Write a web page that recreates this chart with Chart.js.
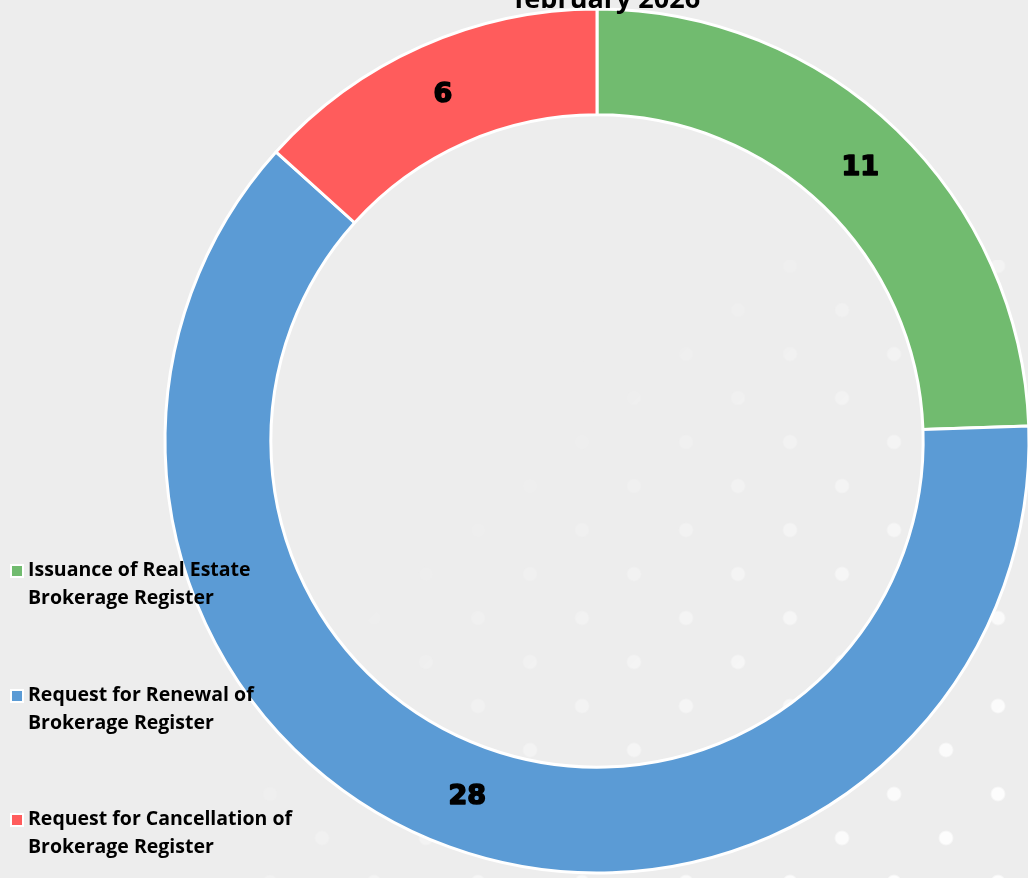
<!DOCTYPE html>
<html>
<head>
<meta charset="utf-8">
<script src="https://cdn.jsdelivr.net/npm/chart.js@4"></script>
<style>
  html, body { margin:0; padding:0; width:1028px; height:878px; overflow:hidden; background:#EDEDED; font-family: "Open Sans", "Noto Sans", sans-serif; }
  .dots { position:absolute; left:260px; top:260px; width:768px; height:618px;
    background-size: 104px 88px;
    background-image: radial-gradient(circle, rgba(255,255,255,0.95) 0 6px, rgba(255,255,255,0) 8px);
    -webkit-mask-image: linear-gradient(135deg, rgba(0,0,0,0) 30%, rgba(0,0,0,0.9) 90%);
    mask-image: linear-gradient(135deg, rgba(0,0,0,0) 30%, rgba(0,0,0,0.9) 90%); }
  #dots1 { background-position: 10px 6px; }
  #dots2 { background-position: 62px 50px; }
  #wrap { position:absolute; left:0; top:0; }
  #title { position:absolute; left:0; width:1214px; top:-17px; text-align:center; font-weight:700; font-size:27px; color:#000; line-height:30px; }
  .item { position:absolute; left:10px; font-weight:700; font-size:19.5px; line-height:28px; color:#000; white-space:nowrap; }
  .item .box { position:absolute; left:0; top:9px; width:10px; height:10px; border:2px solid #fff; }
  .item .txt { margin-left:18px; }
</style>
</head>
<body>
<div class="dots" id="dots1"></div>
<div class="dots" id="dots2"></div>
<div id="wrap"><canvas id="c" width="1194" height="882"></canvas></div>
<div id="title"></div>
<div id="legend"></div>
<script>
const titleText = "february 2026";
const categories = [
  "Issuance of Real Estate Brokerage Register",
  "Request for Renewal of Brokerage Register",
  "Request for Cancellation of Brokerage Register"
];
const legendLines = [
  ["Issuance of Real Estate", "Brokerage Register"],
  ["Request for Renewal of", "Brokerage Register"],
  ["Request for Cancellation of", "Brokerage Register"]
];
const values = [11, 28, 6];
const colors = ["#71BB6F", "#5B9BD5", "#FF5C5C"];

document.getElementById('title').textContent = titleText;

const legendTops = [555, 680, 804];
const legend = document.getElementById('legend');
legendLines.forEach((lines, i) => {
  const d = document.createElement('div');
  d.className = 'item';
  d.style.top = legendTops[i] + 'px';
  const b = document.createElement('div');
  b.className = 'box';
  b.style.background = colors[i];
  d.appendChild(b);
  const t = document.createElement('div');
  t.className = 'txt';
  lines.forEach((s, k) => {
    if (k) t.appendChild(document.createElement('br'));
    t.appendChild(document.createTextNode(s));
  });
  d.appendChild(t);
  legend.appendChild(d);
});

const labelPlugin = {
  id: 'valueLabels',
  afterDatasetsDraw(chart) {
    const ctx = chart.ctx;
    const meta = chart.getDatasetMeta(0);
    ctx.save();
    ctx.font = 'bold 27px "DejaVu Sans", sans-serif';
    ctx.textAlign = 'center';
    ctx.textBaseline = 'middle';
    ctx.fillStyle = '#000';
    ctx.strokeStyle = '#000';
    ctx.lineWidth = 1.6;
    ctx.lineJoin = 'round';
    meta.data.forEach((arc, i) => {
      const p = arc.tooltipPosition();
      const txt = String(chart.data.datasets[0].data[i]);
      ctx.strokeText(txt, p.x, p.y);
      ctx.fillText(txt, p.x, p.y);
    });
    ctx.restore();
  }
};

new Chart(document.getElementById('c'), {
  type: 'doughnut',
  data: {
    labels: categories,
    datasets: [{
      data: values,
      backgroundColor: colors,
      borderColor: '#ffffff',
      borderWidth: 3,
      borderAlign: 'center'
    }]
  },
  options: {
    responsive: false,
    animation: false,
    devicePixelRatio: 1,
    radius: 432,
    cutout: '75.5%',
    layout: { padding: 0 },
    plugins: {
      legend: { display: false },
      tooltip: { enabled: false },
      title: { display: false }
    }
  },
  plugins: [labelPlugin]
});
</script>
</body>
</html>
